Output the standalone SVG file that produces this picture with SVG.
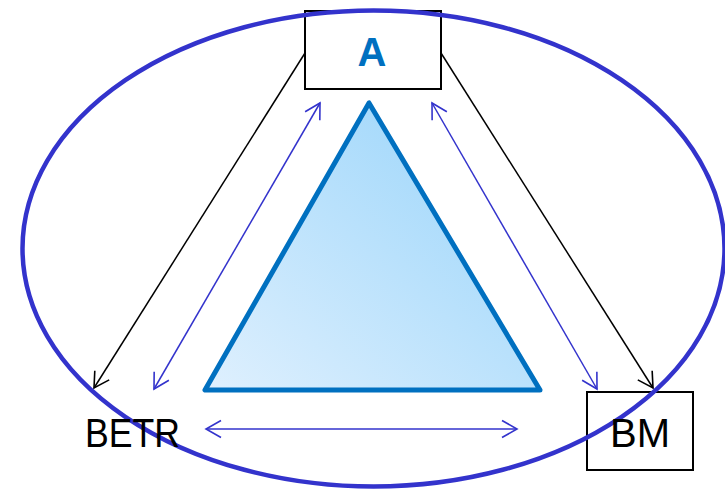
<svg xmlns="http://www.w3.org/2000/svg" width="725" height="489" viewBox="0 0 725 489">
<defs>
<linearGradient id="triFill" x1="0" y1="1" x2="1" y2="0">
<stop offset="0" stop-color="#dff0fe"/>
<stop offset="1" stop-color="#95d3fa"/>
</linearGradient>
<marker id="headBlue" viewBox="-18 -10 20 20" markerWidth="20" markerHeight="20" refX="0" refY="0" orient="auto-start-reverse" markerUnits="userSpaceOnUse">
<path d="M-15,-8.5 L0,0 L-15,8.5" fill="none" stroke="#3333cc" stroke-width="1.6"/>
</marker>
<marker id="headBlack" viewBox="-18 -10 20 20" markerWidth="20" markerHeight="20" refX="0" refY="0" orient="auto-start-reverse" markerUnits="userSpaceOnUse">
<path d="M-15,-8.5 L0,0 L-15,8.5" fill="none" stroke="#000" stroke-width="1.6"/>
</marker>
</defs>
<style>
.blue{stroke:#3333cc;stroke-width:1.5;fill:none;marker-start:url(#headBlue);marker-end:url(#headBlue)}
.black{stroke:#000;stroke-width:1.5;fill:none;marker-end:url(#headBlack)}
.box{fill:#fff;stroke:#000;stroke-width:2}
.lbl{font-family:"Liberation Sans",Arial,sans-serif;font-size:40px;fill:#000}
</style>
<rect width="725" height="489" fill="#fff"/>
<g id="triangle">
<polygon points="369,103 205,390 540,390" fill="url(#triFill)" stroke="#0070c0" stroke-width="5" stroke-linejoin="round"/>
</g>
<g id="connectors">
<line class="black" x1="305" y1="53" x2="94" y2="388"/>
<line class="black" x1="441" y1="53" x2="653" y2="388"/>
<line class="blue" x1="154" y1="389" x2="320" y2="103"/>
<line class="blue" x1="432" y1="103" x2="597" y2="389"/>
<line class="blue" x1="206" y1="429" x2="517" y2="429"/>
</g>
<g id="nodeA">
<rect class="box" x="305" y="11" width="136" height="78"/>
</g>
<g id="nodeBM">
<rect class="box" x="587" y="392" width="106" height="78"/>
</g>
<g id="ellipse">
<ellipse cx="373.5" cy="248.5" rx="351" ry="238" fill="none" stroke="#3333cc" stroke-width="4.5"/>
</g>
<g id="labels">
<text x="372" y="66" text-anchor="middle" font-family="Liberation Sans,Arial,sans-serif" font-weight="bold" font-size="40" fill="#0070c0">A</text>
<text class="lbl" x="85" y="447" textLength="95" lengthAdjust="spacingAndGlyphs">BETR</text>
<text class="lbl" x="640" y="447" text-anchor="middle">BM</text>
</g>
</svg>
